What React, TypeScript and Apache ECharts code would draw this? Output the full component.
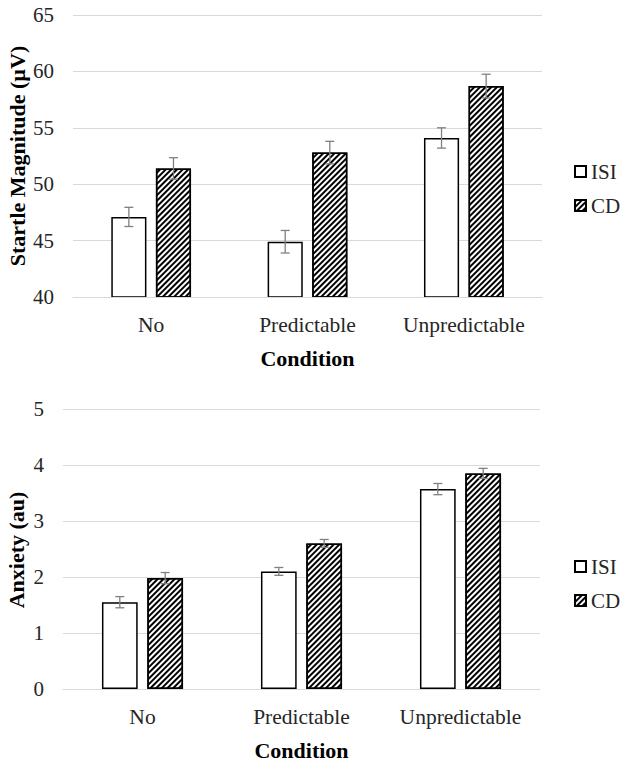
import React, { useEffect, useRef } from "react";
import * as echarts from "echarts";

const categories = ["No", "Predictable", "Unpredictable"];
const seriesNames = ["ISI", "CD"];

const startleISI = [47.1, 44.9, 54.1];
const startleCD = [51.4, 52.8, 58.7];
const startleISIErr = [0.85, 1.0, 0.9];
const startleCDErr = [0.95, 1.0, 1.05];

const anxietyISI = [1.55, 2.1, 3.57];
const anxietyCD = [1.98, 2.6, 3.85];
const anxietyISIErr = [0.1, 0.07, 0.1];
const anxietyCDErr = [0.1, 0.07, 0.09];

const startleAxis = { min: 40, max: 65, interval: 5 };
const anxietyAxis = { min: 0, max: 5, interval: 1 };

const CAT_GAP = 0.49;
const BAR_GAP = 0.27;
const FONT = "'Liberation Serif', 'Times New Roman', serif";
const TEXT = "#262626";
const GRID_COLOR = "#d9d9d9";
const ERR_COLOR = "#808080";
const LABEL_SIZE = 21.5;
const TITLE_SIZE = 22;

const hatchDecal = {
  symbol: "rect",
  symbolSize: 1,
  color: "#000",
  backgroundColor: null,
  dashArrayX: [1, 0],
  dashArrayY: [1.7, 1.7],
  rotation: -Math.PI / 4,
};

function errRender(slot: number) {
  return (params: any, api: any) => {
    const cat = api.value(0);
    const mean = api.value(1);
    const err = api.value(2);
    const band = api.size([1, 0])[0];
    const total = band * (1 - CAT_GAP);
    const bw = total / (2 + BAR_GAP);
    const off = ((bw + bw * BAR_GAP) / 2) * (slot === 0 ? -1 : 1);
    const top = api.coord([cat, mean + err]);
    const bot = api.coord([cat, mean - err]);
    const x = top[0] + off;
    const cap = 4.5;
    const style = { stroke: ERR_COLOR, lineWidth: 1.3 };
    return {
      type: "group",
      children: [
        { type: "line", shape: { x1: x, y1: top[1], x2: x, y2: bot[1] }, style },
        { type: "line", shape: { x1: x - cap, y1: top[1], x2: x + cap, y2: top[1] }, style },
        { type: "line", shape: { x1: x - cap, y1: bot[1], x2: x + cap, y2: bot[1] }, style },
      ],
    };
  };
}

function barSeries(name: string, data: number[], idx: number, hatched: boolean) {
  return {
    name,
    type: "bar",
    xAxisIndex: idx,
    yAxisIndex: idx,
    data,
    barCategoryGap: CAT_GAP * 100 + "%",
    barGap: BAR_GAP * 100 + "%",
    itemStyle: {
      color: "#fff",
      borderColor: "#000",
      borderWidth: 1.5,
      ...(hatched ? { decal: hatchDecal } : {}),
    },
    z: 2,
  };
}

function errSeries(name: string, means: number[], errs: number[], idx: number, slot: number) {
  return {
    name: name + " error",
    type: "custom",
    xAxisIndex: idx,
    yAxisIndex: idx,
    data: means.map((m, i) => [i, m, errs[i]]),
    encode: { x: 0, y: 1 },
    renderItem: errRender(slot),
    z: 5,
    silent: true,
  };
}

function xAxis(idx: number) {
  return {
    type: "category",
    gridIndex: idx,
    data: categories,
    z: 3,
    axisLine: { show: true, lineStyle: { color: GRID_COLOR, width: 1 } },
    axisTick: { show: false },
    axisLabel: {
      interval: 0,
      hideOverlap: false,
      fontFamily: FONT,
      fontSize: LABEL_SIZE,
      color: TEXT,
      margin: 17,
    },
    name: "Condition",
    nameLocation: "middle",
    nameGap: 50,
    nameTextStyle: { fontFamily: FONT, fontSize: TITLE_SIZE, fontWeight: "bold", color: "#000" },
  };
}

function yAxis(idx: number, ax: { min: number; max: number; interval: number }) {
  return {
    type: "value",
    gridIndex: idx,
    min: ax.min,
    max: ax.max,
    interval: ax.interval,
    axisLine: { show: false },
    axisTick: { show: false },
    splitLine: { lineStyle: { color: GRID_COLOR, width: 1 } },
    axisLabel: { fontFamily: FONT, fontSize: 21, color: TEXT, margin: 19 },
  };
}

function legend(top: number) {
  return {
    data: seriesNames,
    orient: "vertical",
    left: 569,
    top,
    icon: "rect",
    itemWidth: 11,
    itemHeight: 11,
    itemGap: 13,
    itemTextGap: 4,
    selectedMode: false,
    textStyle: { fontFamily: FONT, fontSize: 21, color: TEXT },
  };
}

export default function App() {
  const ref = useRef<HTMLDivElement>(null);
  useEffect(() => {
    if (!ref.current) return;
    const chart = echarts.init(ref.current, undefined, { renderer: "svg" });
    chart.setOption({
      animation: false,
      backgroundColor: "#fff",
      grid: [
        { left: 73, right: 82, top: 15, height: 282 },
        { left: 63, right: 84, top: 409, height: 282 },
      ],
      xAxis: [xAxis(0), xAxis(1)],
      yAxis: [yAxis(0, startleAxis), yAxis(1, anxietyAxis)],
      legend: [legend(156), legend(551)],
      graphic: [
        {
          type: "text",
          x: 17,
          y: 156,
          rotation: Math.PI / 2,
          style: {
            text: "Startle Magnitude (µV)",
            font: `bold ${TITLE_SIZE}px ${FONT}`,
            fill: "#000",
            align: "center",
            verticalAlign: "middle",
          },
        },
        {
          type: "text",
          x: 16,
          y: 550,
          rotation: Math.PI / 2,
          style: {
            text: "Anxiety (au)",
            font: `bold ${TITLE_SIZE}px ${FONT}`,
            fill: "#000",
            align: "center",
            verticalAlign: "middle",
          },
        },
      ],
      series: [
        barSeries("ISI", startleISI, 0, false),
        barSeries("CD", startleCD, 0, true),
        errSeries("ISI", startleISI, startleISIErr, 0, 0),
        errSeries("CD", startleCD, startleCDErr, 0, 1),
        barSeries("ISI", anxietyISI, 1, false),
        barSeries("CD", anxietyCD, 1, true),
        errSeries("ISI", anxietyISI, anxietyISIErr, 1, 0),
        errSeries("CD", anxietyCD, anxietyCDErr, 1, 1),
      ],
    });
    return () => chart.dispose();
  }, []);
  return (
    <div
      ref={ref}
      style={{ position: "fixed", left: 0, top: 0, width: 624, height: 762, background: "#fff" }}
    />
  );
}
